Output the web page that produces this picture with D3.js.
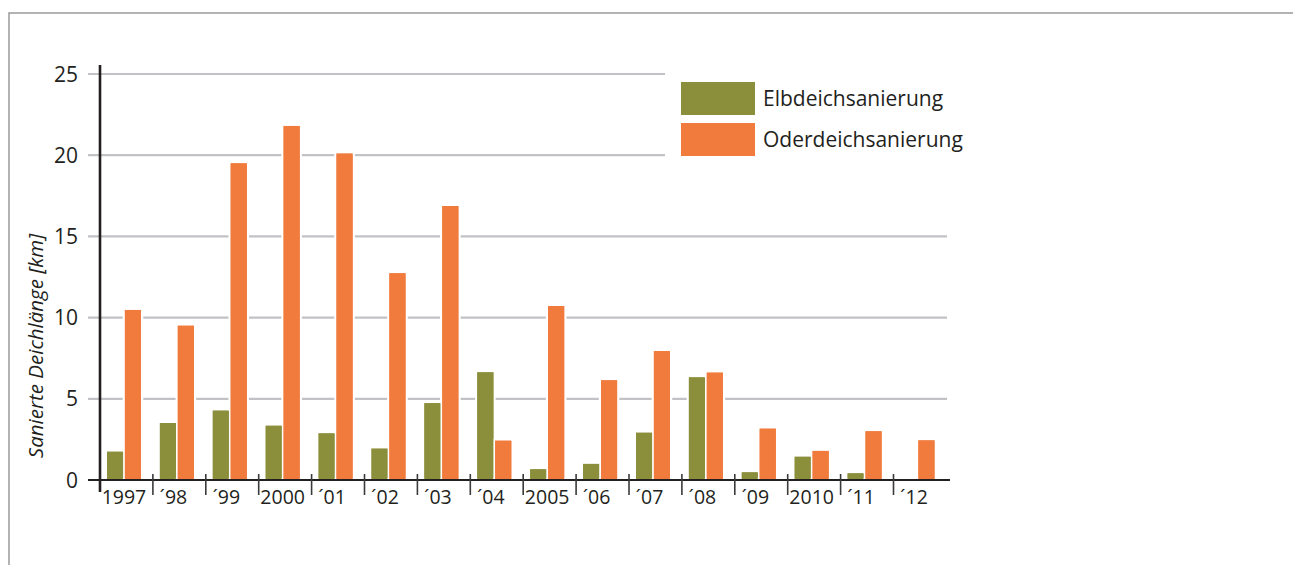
<!DOCTYPE html>
<html><head><meta charset="utf-8">
<script src="https://cdn.jsdelivr.net/npm/d3@7"></script>
<style>
html,body{margin:0;padding:0;background:#fff;}
svg{display:block;font-family:"Open Sans",sans-serif;}
</style></head>
<body>
<svg id="chart" width="1299" height="565"></svg>
<script>
const years = ["1997","´98","´99","2000","´01","´02","´03","´04","2005","´06","´07","´08","´09","2010","´11","´12"];
const elbe  = [1.74,3.51,4.27,3.34,2.87,1.93,4.73,6.63,0.66,0.99,2.91,6.32,0.47,1.43,0.41,0];
const oder  = [10.47,9.5,19.5,21.8,20.1,12.73,16.87,2.42,10.71,6.14,7.94,6.61,3.16,1.79,3.0,2.44];
const seriesNames = ["Elbdeichsanierung","Oderdeichsanierung"];
const seriesColors = ["#8b8e3a","#f07b3c"];
const yTicks = [0,5,10,15,20,25];
const yTitle = "Sanierte Deichlänge [km]";

const svg = d3.select("#chart");
const y = d3.scaleLinear().domain([0,25]).range([480,74]);
const x = d3.scaleBand().domain(years).range([100,946.4]).padding(0);
const xs = d3.scaleBand().domain([0,1]).range([7,41]).paddingInner(0.1);

// frame
svg.append("path").attr("d","M9,565V13H1293").attr("fill","none").attr("stroke","#9a9a9a").attr("stroke-width",1.5);

// gridlines
svg.append("g").selectAll("line").data(yTicks.filter(d=>d>0)).join("line")
  .attr("x1",88).attr("x2",d=>d>=20?665:947)
  .attr("y1",d=>y(d)).attr("y2",d=>y(d))
  .attr("stroke","#c2c2c6").attr("stroke-width",2.2);

// y tick labels
svg.append("g").selectAll("text").data(yTicks).join("text")
  .attr("x",78).attr("y",d=>y(d)).attr("dy","0.36em")
  .attr("text-anchor","end").attr("font-size",21).attr("fill","#231f20")
  .text(d=>d);

// bars
const data = years.map((yr,i)=>({yr, vals:[elbe[i],oder[i]]}));
const groups = svg.append("g").selectAll("g").data(data).join("g")
  .attr("transform",d=>`translate(${x(d.yr)},0)`);
groups.each(function(d){
  const g = d3.select(this);
  d.vals.forEach((v,j)=>{
    if(!v) return;
    g.append("rect").attr("x",xs(j)).attr("width",xs.bandwidth())
      .attr("y",y(v)).attr("height",y(0)-y(v))
      .attr("fill",seriesColors[j]).attr("stroke","#fff").attr("stroke-width",4.5)
      .attr("paint-order","stroke");
  });
  d.vals.forEach((v,j)=>{
    if(!v) return;
    g.append("rect").attr("x",xs(j)).attr("width",xs.bandwidth())
      .attr("y",y(v)).attr("height",y(0)-y(v)-1.5)
      .attr("fill",seriesColors[j]);
  });
});

// x axis line
svg.append("line").attr("x1",88).attr("x2",950).attr("y1",y(0)).attr("y2",y(0))
  .attr("stroke","#231f20").attr("stroke-width",2);
// ticks at category boundaries
svg.append("g").selectAll("line").data(years.slice(1)).join("line")
  .attr("x1",d=>x(d)).attr("x2",d=>x(d)).attr("y1",474).attr("y2",495)
  .attr("stroke","#3a3a3a").attr("stroke-width",1.6);
// y axis line
svg.append("line").attr("x1",100).attr("x2",100).attr("y1",65).attr("y2",492)
  .attr("stroke","#231f20").attr("stroke-width",2.6);

// x labels
svg.append("g").selectAll("text").data(years).join("text")
  .attr("x",d=>x(d)+x.bandwidth()/2 - (d.length===4?2.5:6)).attr("y",504)
  .attr("text-anchor","middle").attr("font-size",19.5).attr("fill","#231f20")
  .text(d=>d);

// y title
svg.append("text").attr("transform","translate(43,346) rotate(-90)")
  .attr("text-anchor","middle").attr("font-size",20.5).attr("font-style","italic")
  .attr("fill","#231f20").text(yTitle);

// legend
const leg = svg.append("g").selectAll("g").data(seriesNames).join("g")
  .attr("transform",(d,i)=>`translate(681,${82+i*41})`);
leg.append("rect").attr("width",74).attr("height",33).attr("fill",(d,i)=>seriesColors[i]);
leg.append("text").attr("x",82).attr("y",16.5).attr("dy","0.36em")
  .attr("font-size",21).attr("fill","#231f20").text(d=>d);
</script>
</body></html>
